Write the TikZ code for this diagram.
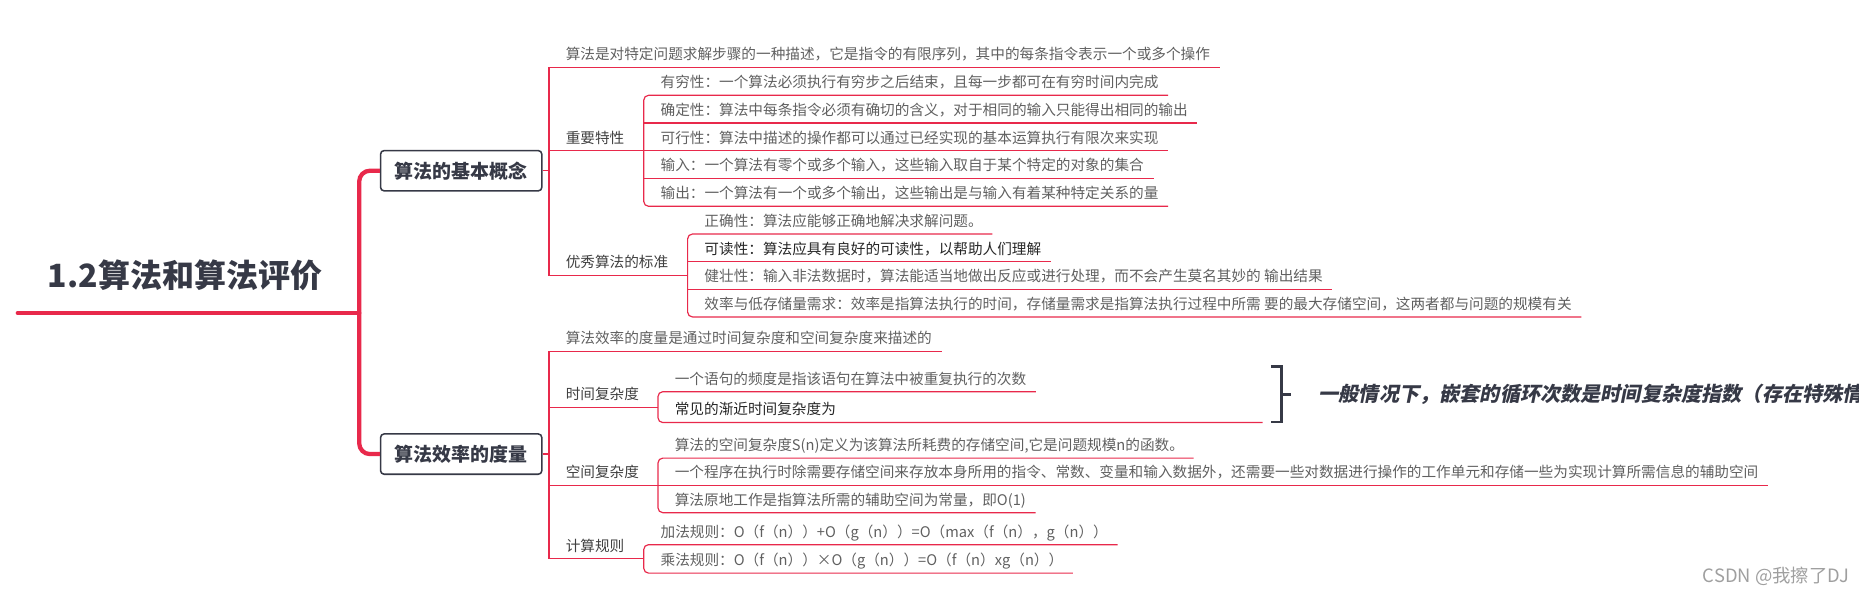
\documentclass[tikz,border=0pt]{standalone}
\usepackage{fontspec}
\setmainfont{Noto Sans CJK SC}
\newfontfamily\slantfont{Noto Sans CJK SC}[FakeSlant=0.2]
\usepackage{xcolor}
\usetikzlibrary{positioning, calc}

\definecolor{mapred}{HTML}{E8294B}
\definecolor{topic}{HTML}{363946}
\definecolor{leafgray}{HTML}{606060}
\definecolor{parentgray}{HTML}{404040}

\begin{document}
\begin{tikzpicture}[
          x=1pt, y=-1pt,
          root/.style={font=\fontsize{27}{32}\selectfont\bfseries, text=topic, inner sep=0pt},
          topicbox/.style={draw=topic, line width=1.3pt, rounded corners=3pt, fill=white,
            minimum width=136pt, minimum height=34pt, inner sep=0pt,
            font=\fontsize{16}{19}\selectfont\bfseries, text=topic},
          leaf/.style={anchor=west, inner xsep=8pt, inner ysep=4.5pt, text height=10.7pt,
            text depth=1.7pt, font=\fontsize{12.35}{15}\selectfont, text=leafgray},
          parent/.style={leaf, text=parentgray},
          dark/.style={leaf, text=black!85},
          note/.style={anchor=west, inner sep=0pt, text=topic,
            font=\fontsize{17}{20}\selectfont\slantfont\bfseries},
          trunk/.style={draw=mapred, line width=3.6pt},
          branch/.style={draw=mapred, line width=1pt},
          brace/.style={draw=topic, line width=2.4pt}
        ]
\useasboundingbox (0,0) rectangle (1568,501);

% root and main topics
\node[root] (root) at (156,232) {1.2算法和算法评价};
\node[topicbox] (basic) at (389,144) {算法的基本概念};
\node[topicbox] (measure) at (389,383) {算法效率的度量};
\coordinate (rootL) at (15,264);
\coordinate (hub) at (303,264);
\draw[trunk, line cap=round] (rootL) -- (hub);
\draw[trunk, rounded corners=9pt] (basic.west) -| (hub) |- (measure.west);

% spines
\coordinate (s1) at (463,0);
\coordinate (s2) at (543,0);
\coordinate (s3) at (580,0);
\coordinate (s4) at (555,0);
\coordinate (s5) at (543,0);

% basic concepts
\node[leaf] (def) at (469,46) {算法是对特定问题求解步骤的一种描述，它是指令的有限序列，其中的每条指令表示一个或多个操作};
\node[parent] (imp) at (469,116.3) {重要特性};
\node[leaf] (fin) at (549,69.5) {有穷性：一个算法必须执行有穷步之后结束，且每一步都可在有穷时间内完成};
\node[leaf] (det) at (549,92.9) {确定性：算法中每条指令必须有确切的含义，对于相同的输入只能得出相同的输出};
\node[leaf] (fea) at (549,116.3) {可行性：算法中描述的操作都可以通过已经实现的基本运算执行有限次来实现};
\node[leaf] (inp) at (549,139.7) {输入：一个算法有零个或多个输入，这些输入取自于某个特定的对象的集合};
\node[leaf] (outp) at (549,163.1) {输出：一个算法有一个或多个输出，这些输出是与输入有着某种特定关系的量};
\node[parent] (good) at (469,221.5) {优秀算法的标准};
\node[leaf] (cor) at (586,186.5) {正确性：算法应能够正确地解决求解问题。};
\node[dark] (rea) at (586,209.8) {可读性：算法应具有良好的可读性，以帮助人们理解};
\node[leaf] (rob) at (586,233.1) {健壮性：输入非法数据时，算法能适当地做出反应或进行处理，而不会产生莫名其妙的 输出结果};
\node[leaf] (eff) at (586,256.4) {效率与低存储量需求：效率是指算法执行的时间，存储量需求是指算法执行过程中所需 要的最大存储空间，这两者都与问题的规模有关};

\draw[branch] (basic.east) -- (s1 |- basic.east);
\draw[branch] (def.south east) -- (s1 |- def.south) -- (s1 |- good.south) -- (s3 |- good.south);
\draw[branch] (s1 |- imp.south) -- (s2 |- imp.south);
\draw[branch, rounded corners=4pt] (fin.south east) -- (s2 |- fin.south) -- (s2 |- outp.south) -- (outp.south east);
\foreach \n in {det,fea,inp}
  \draw[branch] (s2 |- \n.south) -- (\n.south east);
\draw[branch, rounded corners=4pt] (cor.south east) -- (s3 |- cor.south) -- (s3 |- eff.south) -- (eff.south east);
\foreach \n in {rea,rob}
  \draw[branch] (s3 |- \n.south) -- (\n.south east);

% efficiency measure
\node[leaf] (m0) at (469,285.5) {算法效率的度量是通过时间复杂度和空间复杂度来描述的};
\node[parent] (tc) at (469,332.5) {时间复杂度};
\node[leaf] (tc1) at (561,319.5) {一个语句的频度是指该语句在算法中被重复执行的次数};
\node[dark] (tc2) at (561,345.5) {常见的渐近时间复杂度为};
\node[parent] (sc) at (469,398.5) {空间复杂度};
\node[leaf] (sc1) at (561,375.5) {算法的空间复杂度S(n)定义为该算法所耗费的存储空间,它是问题规模n的函数。};
\node[leaf] (sc2) at (561,398.5) {一个程序在执行时除需要存储空间来存放本身所用的指令、常数、变量和输入数据外，还需要一些对数据进行操作的工作单元和存储一些为实现计算所需信息的辅助空间};
\node[leaf] (sc3) at (561,421.5) {算法原地工作是指算法所需的辅助空间为常量，即O(1)};
\node[parent] (rule) at (469,460.5) {计算规则};
\node[leaf] (r1) at (549,448.5) {加法规则：O（f（n））+O（g（n））=O（max（f（n），g（n））};
\node[leaf] (r2) at (549,472.5) {乘法规则：O（f（n））×O（g（n））=O（f（n）xg（n））};

\draw[branch] (measure.east) -- (s1 |- measure.east);
\draw[branch] (m0.south east) -- (s1 |- m0.south) -- (s1 |- rule.south) -- (s5 |- rule.south);
\foreach \n in {tc,sc}
  \draw[branch] (s1 |- \n.south) -- (s4 |- \n.south);

% summary bracket
\coordinate (bt) at (1072,309);
\coordinate (bb) at (1072,356);
\draw[branch, rounded corners=4pt] (tc1.south east) -- (s4 |- tc1.south) -- (s4 |- tc2.south) -- ([xshift=-7pt]bb |- tc2.south);
\draw[branch, rounded corners=4pt] (sc1.south east) -- (s4 |- sc1.south) -- (s4 |- sc3.south) -- (sc3.south east);
\draw[branch] (s4 |- sc2.south) -- (sc2.south east);
\draw[branch, rounded corners=4pt] (r1.south east) -- (s5 |- r1.south) -- (s5 |- r2.south) -- (r2.south east);
\draw[brace] (bt) -- ++(9,0) |- (bb);
\draw[brace] ($(bt)!0.5!(bb)+(9,0)$) -- ++(8,0);
\begin{scope}
  \clip (0,0) rectangle (1568,501);
  \node[note] (note) at (1112,332.5) {一般情况下，嵌套的循环次数是时间复杂度指数（存在特殊情况};
\end{scope}

\node[anchor=east, inner sep=0pt, text=gray!75, font=\fontsize{15.5}{18}\selectfont] (mark) at (1560,486) {CSDN @我擦了DJ};
\end{tikzpicture}
\end{document}
